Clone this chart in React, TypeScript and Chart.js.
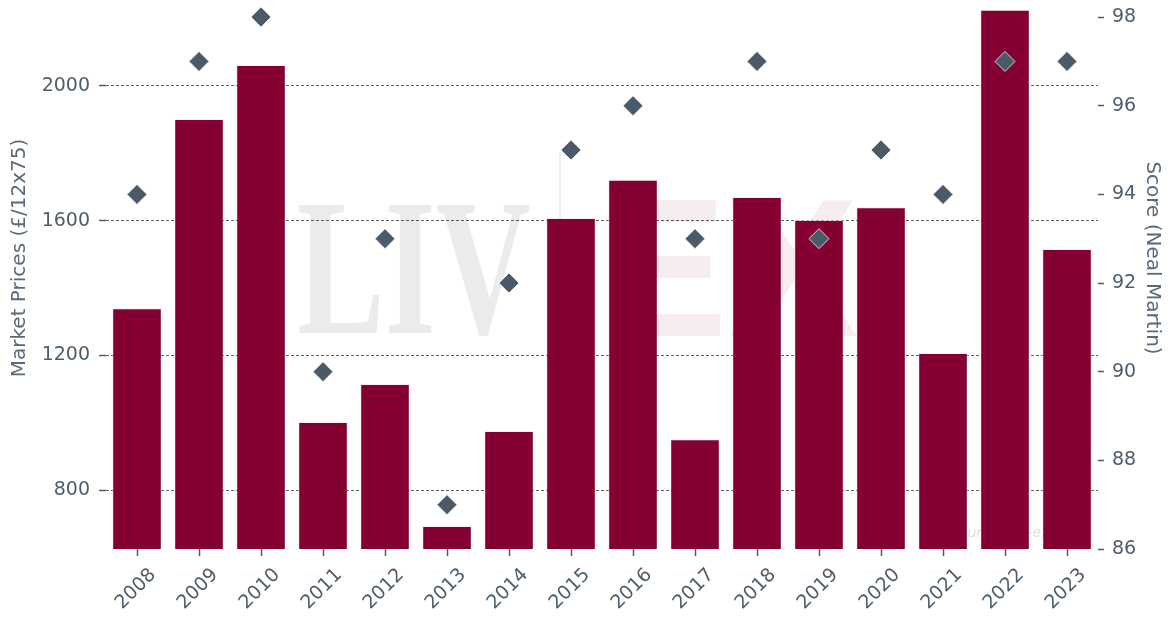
import React, { useEffect, useRef } from "react";
import { Chart, registerables } from "chart.js";

Chart.register(...registerables);

const years = ["2008", "2009", "2010", "2011", "2012", "2013", "2014", "2015", "2016", "2017", "2018", "2019", "2020", "2021", "2022", "2023"];
const marketPrices = [1340, 1902, 2062, 1002, 1115, 693, 975, 1608, 1721, 951, 1670, 1602, 1640, 1207, 2226, 1516];
const scores = [94, 97, 98, 90, 93, 87, 92, 95, 96, 93, 97, 93, 95, 94, 97, 97];
const priceTicks = [800, 1200, 1600, 2000];
const priceRange = [625, 2353];
const scoreRange = [86, 99.13];
const scoreTicks = [86, 88, 90, 92, 94, 96, 98];

const FONT = '"DejaVu Sans", sans-serif';
const TEXT = "#4e5d6c";
const SHIFT = 33; // canvas extends above the visible page (cropped figure)

const watermark = {
  id: "watermark",
  beforeDatasetsDraw(chart: any) {
    const ctx = chart.ctx;
    ctx.save();
    ctx.translate(0, SHIFT);
    ctx.save();
    ctx.fillStyle = "rgba(0,0,0,0.08)";
    ctx.font = 'bold 196px "Liberation Serif", serif';
    ctx.textBaseline = "alphabetic";
    ctx.translate(297, 333);
    ctx.scale(0.67, 1);
    ctx.fillText("LIV", 0, 0);
    ctx.restore();
    ctx.strokeStyle = "rgba(0,0,0,0.07)";
    ctx.lineWidth = 2;
    ctx.beginPath();
    ctx.moveTo(560, 152);
    ctx.lineTo(560, 222);
    ctx.stroke();
    ctx.fillStyle = "rgba(133,0,47,0.07)";
    ctx.font = 'bold 196px "Liberation Sans", sans-serif';
    ctx.fillText("EX", 597, 336);
    ctx.fillStyle = "rgba(0,0,0,0.13)";
    ctx.font = "italic 14px " + FONT;
    ctx.fillText("Source: Liv-ex.com", 950, 537);
    ctx.restore();
  },
};

export default function App() {
  const ref = useRef<HTMLCanvasElement | null>(null);

  useEffect(() => {
    document.body.style.margin = "0";
    const canvas = ref.current;
    if (!canvas) return;
    const chart = new Chart(canvas, {
      type: "bar",
      data: {
        labels: years,
        datasets: [
          {
            type: "line",
            label: "Score (Neal Martin)",
            data: scores,
            yAxisID: "y1",
            showLine: false,
            pointStyle: "rectRot",
            pointRadius: 10,
            pointHoverRadius: 10,
            backgroundColor: "#4b5a69",
            borderColor: "rgba(255,255,255,0.75)",
            borderWidth: 1,
            clip: false,
            order: 1,
          } as any,
          {
            type: "bar",
            label: "Market Prices (£/12x75)",
            data: marketPrices,
            yAxisID: "y",
            base: priceRange[0],
            backgroundColor: "#850032",
            borderColor: "rgba(255,220,230,0.55)",
            borderWidth: 1,
            barPercentage: 0.8,
            categoryPercentage: 1,
            order: 2,
          } as any,
        ],
      },
      plugins: [watermark],
      options: {
        animation: false,
        responsive: false,
        devicePixelRatio: 1,
        layout: { autoPadding: false, padding: { top: 0, left: 0, right: 0, bottom: 0 } },
        plugins: { legend: { display: false }, tooltip: { enabled: false } },
        scales: {
          x: {
            offset: true,
            grid: { display: true, drawOnChartArea: false, offset: false, drawTicks: true, tickLength: 7, tickColor: TEXT, tickWidth: 1.5 },
            border: { display: false },
            ticks: { color: TEXT, font: { family: FONT, size: 19 }, maxRotation: 45, minRotation: 45, padding: 8, labelOffset: 16 },
            afterFit(scale: any) {
              scale.height = 69;
              scale.paddingTop = 0;
            },
          },
          y: {
            position: "left",
            min: priceRange[0],
            max: priceRange[1],
            afterBuildTicks(scale: any) {
              scale.ticks = priceTicks.map((v) => ({ value: v }));
            },
            grid: { color: "rgba(70,70,70,0.85)", lineWidth: 1, tickColor: TEXT, tickLength: 7, tickWidth: 1.5, borderDash: [3, 2] } as any,
            border: { display: false, dash: [3, 2] },
            ticks: { color: TEXT, font: { family: FONT, size: 19 }, padding: 9, callback: (v: any) => String(v) },
            title: { display: true, text: "Market Prices (£/12x75)", color: "#5b6a78", font: { family: FONT, size: 20 }, padding: { top: 8, bottom: 0 } },
            afterFit(scale: any) {
              scale.width = 106;
              scale.paddingTop = 0;
            },
          },
          y1: {
            position: "right",
            min: scoreRange[0],
            max: scoreRange[1],
            afterBuildTicks(scale: any) {
              scale.ticks = scoreTicks.map((v) => ({ value: v }));
            },
            ticks: { color: TEXT, font: { family: FONT, size: 19 }, padding: 8, callback: (v: any) => String(v) },
            grid: { drawOnChartArea: false, tickColor: TEXT, tickLength: 6, tickWidth: 1.5 },
            border: { display: false },
            title: { display: true, text: "Score (Neal Martin)", color: "#5b6a78", font: { family: FONT, size: 20 }, padding: { top: 6, bottom: 0 } },
            afterFit(scale: any) {
              scale.width = 72;
              scale.paddingTop = 0;
            },
          },
        },
      } as any,
    });
    return () => chart.destroy();
  }, []);

  return (
    <div style={{ width: 1170, height: 618, background: "#fff", position: "relative", overflow: "hidden" }}>
      <canvas
        ref={ref}
        width={1170}
        height={618 + SHIFT}
        style={{ display: "block", position: "absolute", left: 0, top: -SHIFT }}
      />
    </div>
  );
}
